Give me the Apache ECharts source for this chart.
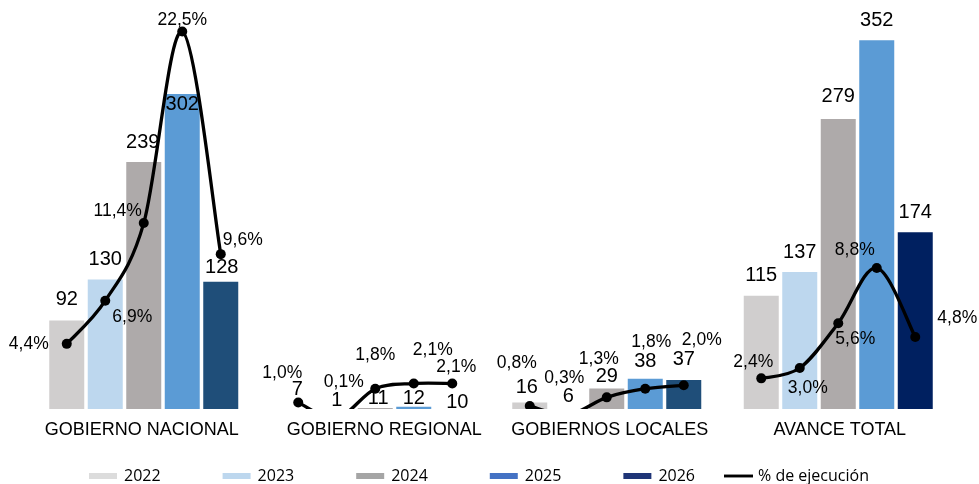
<!DOCTYPE html>
<html><head><meta charset="utf-8">
<script src="https://cdn.jsdelivr.net/npm/echarts@6/dist/echarts.min.js"></script>
<style>html,body{margin:0;padding:0;background:#fff}#c{width:979px;height:484px}</style>
</head><body><div id="c"></div>
<script>
// ---- data ----
const categories = ['GOBIERNO NACIONAL', 'GOBIERNO REGIONAL', 'GOBIERNOS LOCALES', 'AVANCE TOTAL'];
const years = ['2022', '2023', '2024', '2025', '2026'];
const v2022 = [92, 7, 16, 115];
const v2023 = [130, 1, 6, 137];
const v2024 = [239, 11, 29, 279];
const v2025 = [302, 12, 38, 352];
const v2026 = [128, 10, 37, 174];
const p2022 = [4.4, 1.0, 0.8, 2.4];
const p2023 = [6.9, 0.1, 0.3, 3.0];
const p2024 = [11.4, 1.8, 1.3, 5.6];
const p2025 = [22.5, 2.1, 1.8, 8.8];
const p2026 = [9.6, 2.1, 2.0, 4.8];
const lineName = '% de ejecución';

// ---- layout / style ----
const FONT = '"Liberation Sans", Arial, sans-serif';
const LEGEND_FONT = '"Open Sans", "Noto Sans", sans-serif';
const BAR_W = 35, BAR_GAP = 0.1, PITCH = BAR_W * (1 + BAR_GAP);
const BAR_MIN = 10, BAR_MAX = 380;
const PCT_MIN = BAR_MIN / 16, PCT_MAX = BAR_MAX / 16;
const barColors = ['#d0cece', '#bdd7ee', '#aeaaaa', '#5b9bd5', '#1f4e79'];
const totalColor2026 = '#002060';
const legendColors = ['#dcdcdc', '#bdd7ee', '#a5a5a5', '#4472c4', '#1f3577'];
// category label horizontal nudges (left padding, px)
const catLabelPad = [[0, 4, 0, 0], [0, 0, 0, 18], [0, 0, 0, 6], [0, 0, 0, 3]];
// label nudges [dx, dy] per year (row) and category (column)
const barLabelOff = [
  [[0, -21], [-1, -20], [-3, -15], [0, -20]],
  [[0, -20], [0, -9], [0, -13], [0, -20]],
  [[-1, -20], [3, -9], [0, -12], [0, -22]],
  [[0, 10], [0, -8], [0, -17], [0, -20]],
  [[1, -14], [5, -7], [0, -20], [0, -20]]
];
const pctLabelOff = [
  [[-38, 0], [-16, -29], [-13, -43], [-8, -16]],
  [[27, 16], [7, -36], [-4, -36], [8, 20]],
  [[-26, -12], [0, -34], [-8, -38], [17, 16]],
  [[0, -11], [19, -33], [6, -47], [-22, -18]],
  [[22, -14], [4, -16], [18, -45], [42, -19]]
];

const barValues = [v2022, v2023, v2024, v2025, v2026];
const pctValues = [p2022, p2023, p2024, p2025, p2026];
const fmtPct = v => v.toFixed(1).replace('.', ',') + '%';

const chart = echarts.init(document.getElementById('c'), null, {renderer: 'canvas'});

const barSeries = years.map((y, j) => ({
  type: 'bar', name: y, yAxisIndex: 0, z: 2,
  data: barValues[j].map((v, i) => (j === 4 && i === 3) ? {value: v, itemStyle: {color: totalColor2026}} : v),
  barWidth: BAR_W, barGap: (BAR_GAP * 100) + '%',
  itemStyle: {color: barColors[j]},
  label: {show: false}, clip: true, animation: false
}));

function rows(arrs) {
  return categories.map((c, i) => [i].concat(arrs.map(a => a[i])));
}

const lineSeries = {
  type: 'custom', name: lineName, yAxisIndex: 1, clip: true, silent: true, z: 4,
  data: rows(pctValues), encode: {x: 0, y: [1, 2, 3, 4, 5]},
  renderItem: function (params, api) {
    const i = api.value(0);
    const pts = [];
    for (let j = 0; j < 5; j++) {
      const c = api.coord([i, api.value(j + 1)]);
      pts.push([c[0] + (j - 2) * PITCH, c[1]]);
    }
    let d = 'M' + pts[0][0] + ',' + pts[0][1];
    for (let k = 0; k < pts.length - 1; k++) {
      const a = pts[k - 1] || pts[k], b = pts[k], c = pts[k + 1], e = pts[k + 2] || pts[k + 1];
      const c1 = [b[0] + (c[0] - a[0]) / 6, b[1] + (c[1] - a[1]) / 6];
      const c2 = [c[0] - (e[0] - b[0]) / 6, c[1] - (e[1] - b[1]) / 6];
      d += ' C' + c1[0] + ',' + c1[1] + ' ' + c2[0] + ',' + c2[1] + ' ' + c[0] + ',' + c[1];
    }
    const children = [{type: 'path', shape: {pathData: d}, style: {fill: 'none', stroke: '#000', lineWidth: 3.3}}];
    pts.forEach(p => children.push({type: 'circle', shape: {cx: p[0], cy: p[1], r: 5}, style: {fill: '#000'}}));
    return {type: 'group', children: children};
  }
};

const barLabelSeries = {
  type: 'custom', name: 'barLabels', yAxisIndex: 0, clip: false, silent: true, z: 6,
  data: rows(barValues), encode: {x: 0, y: [1, 2, 3, 4, 5]},
  renderItem: function (params, api) {
    const i = api.value(0);
    const children = [];
    for (let j = 0; j < 5; j++) {
      const v = api.value(j + 1);
      const c = api.coord([i, Math.max(v, BAR_MIN)]);
      const off = barLabelOff[j][i];
      children.push({type: 'text', x: c[0] + (j - 2) * PITCH + off[0], y: c[1] + off[1],
        style: {text: String(v), fill: '#000', fontSize: 20, fontFamily: FONT, align: 'center', verticalAlign: 'middle'}});
    }
    return {type: 'group', children: children};
  }
};

const pctLabelSeries = {
  type: 'custom', name: 'pctLabels', yAxisIndex: 1, clip: false, silent: true, z: 6,
  data: rows(pctValues), encode: {x: 0, y: [1, 2, 3, 4, 5]},
  renderItem: function (params, api) {
    const i = api.value(0);
    const children = [];
    for (let j = 0; j < 5; j++) {
      const v = api.value(j + 1);
      const c = api.coord([i, v]);
      const off = pctLabelOff[j][i];
      children.push({type: 'text', x: c[0] + (j - 2) * PITCH + off[0], y: c[1] + off[1],
        style: {text: fmtPct(v), fill: '#000', fontSize: 17.5, fontFamily: FONT, align: 'center', verticalAlign: 'middle'}});
    }
    return {type: 'group', children: children};
  }
};

chart.setOption({
  animation: false,
  backgroundColor: '#fff',
  grid: {left: 28, right: 25, top: 10, bottom: 75, containLabel: false},
  xAxis: {
    type: 'category',
    data: categories.map((c, i) => ({value: c, textStyle: {padding: catLabelPad[i]}})),
    axisLine: {show: false}, axisTick: {show: false}, splitLine: {show: false},
    axisLabel: {interval: 0, fontSize: 18, color: '#000', fontFamily: FONT, margin: 12}
  },
  yAxis: [
    {type: 'value', min: BAR_MIN, max: BAR_MAX, show: false, splitLine: {show: false}},
    {type: 'value', min: PCT_MIN, max: PCT_MAX, show: false, splitLine: {show: false}}
  ],
  legend: [
    {
      data: years.map((y, j) => ({name: y, itemStyle: {color: legendColors[j]}})),
      left: 84, top: 463, icon: 'rect', itemWidth: 28, itemHeight: 6, itemGap: 62,
      selectedMode: false,
      textStyle: {fontFamily: LEGEND_FONT, fontSize: 16, color: '#000', padding: [0, 0, 0, 2]}
    },
    {
      data: [{name: lineName, icon: 'path://M0,0H30V3H0Z', itemStyle: {color: '#000'}}],
      left: 719, top: 463, itemWidth: 29, itemHeight: 6, selectedMode: false,
      textStyle: {fontFamily: LEGEND_FONT, fontSize: 16, color: '#000'}
    }
  ],
  series: barSeries.concat([lineSeries, barLabelSeries, pctLabelSeries])
});
</script>
</body></html>
